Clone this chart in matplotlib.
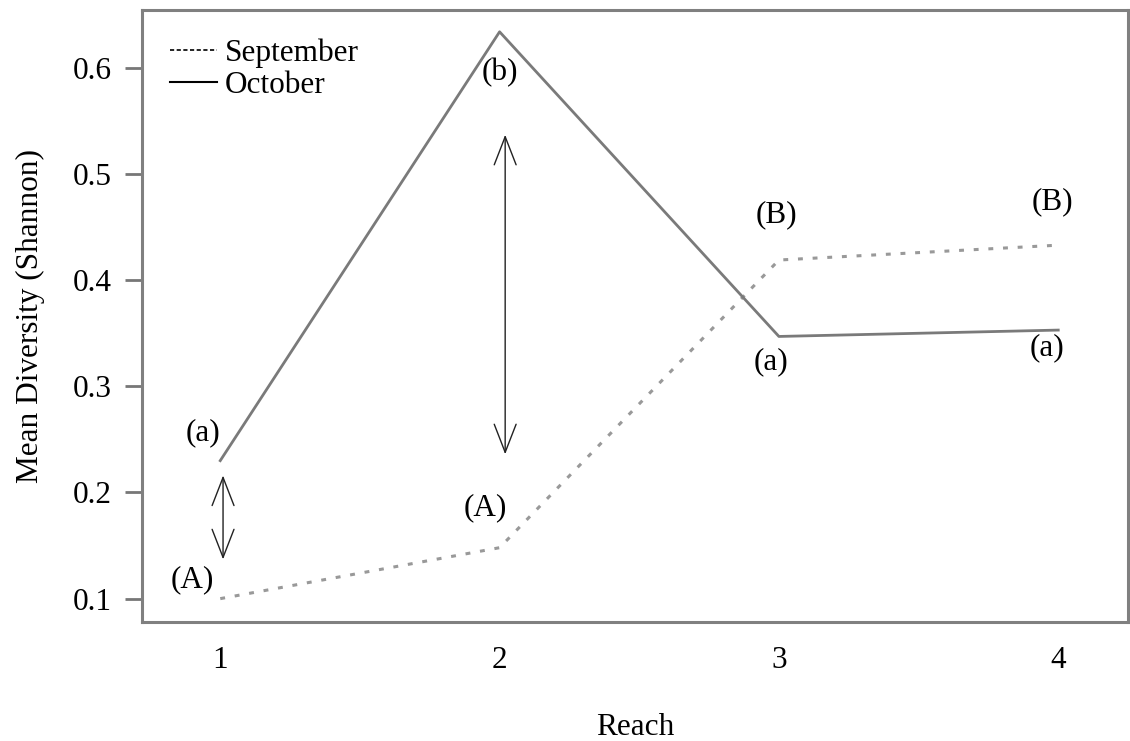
import matplotlib.pyplot as plt
from matplotlib.lines import Line2D

plt.rcParams['font.family'] = 'Liberation Serif'
plt.rcParams['font.size'] = 22.5

# --- Data ---
reach = [1, 2, 3, 4]
september = [0.100, 0.148, 0.419, 0.433]
october = [0.230, 0.634, 0.347, 0.353]

# significance letters: (text, x, y)
letters = [
    ('(a)', 0.94, 0.256), ('(A)', 0.90, 0.118),
    ('(b)', 2.00, 0.596), ('(A)', 1.95, 0.186),
    ('(B)', 2.99, 0.462), ('(a)', 2.97, 0.323),
    ('(B)', 3.98, 0.474), ('(a)', 3.96, 0.336),
]

# double-headed arrows between months: (x, y_low, y_high)
arrows = [(1.01, 0.137, 0.216), (2.02, 0.236, 0.537)]

fig = plt.figure(figsize=(11.3, 7.41), dpi=100)
ax = fig.add_axes([0.1257, 0.1606, 0.8726, 0.826])

ax.plot(reach, september, color='#999999', lw=2.2, linestyle=(0, (1.6, 3.2)),
        solid_capstyle='butt')
ax.plot(reach, october, color='#7a7a7a', lw=2.0)

for txt, x, y in letters:
    ax.text(x, y, txt, ha='center', va='center')

for x, y0, y1 in arrows:
    ax.annotate('', xy=(x, y1), xytext=(x, y0),
                arrowprops=dict(arrowstyle='<->,head_length=0.9,head_width=0.35',
                                color='#222222', lw=1.0, shrinkA=0, shrinkB=0))

ax.set_xlim(0.72, 4.25)
ax.set_ylim(0.078, 0.6546)
ax.set_xticks(reach)
ax.set_xticklabels([str(r) for r in reach])
ax.set_yticks([0.1, 0.2, 0.3, 0.4, 0.5, 0.6])
ax.set_yticklabels(['0.1', '0.2', '0.3', '0.4', '0.5', '0.6'])
ax.tick_params(axis='x', length=0, pad=17)
ax.tick_params(axis='y', length=12, width=2, color='#777777', pad=10)

for sp in ax.spines.values():
    sp.set_color('#808080')
    sp.set_linewidth(2.2)

ax.set_xlabel('Reach', labelpad=28)
ax.set_ylabel('Mean Diversity (Shannon)', labelpad=20)

handles = [Line2D([0], [0], color='black', lw=1.2, linestyle=(0, (2.5, 1.5))),
           Line2D([0], [0], color='black', lw=1.5)]
ax.legend(handles, ['September', 'October'], loc='upper left', frameon=False,
          handlelength=1.5, handletextpad=0.25, labelspacing=0.12,
          borderaxespad=0.5)

fig.savefig('out.png', dpi=100)
